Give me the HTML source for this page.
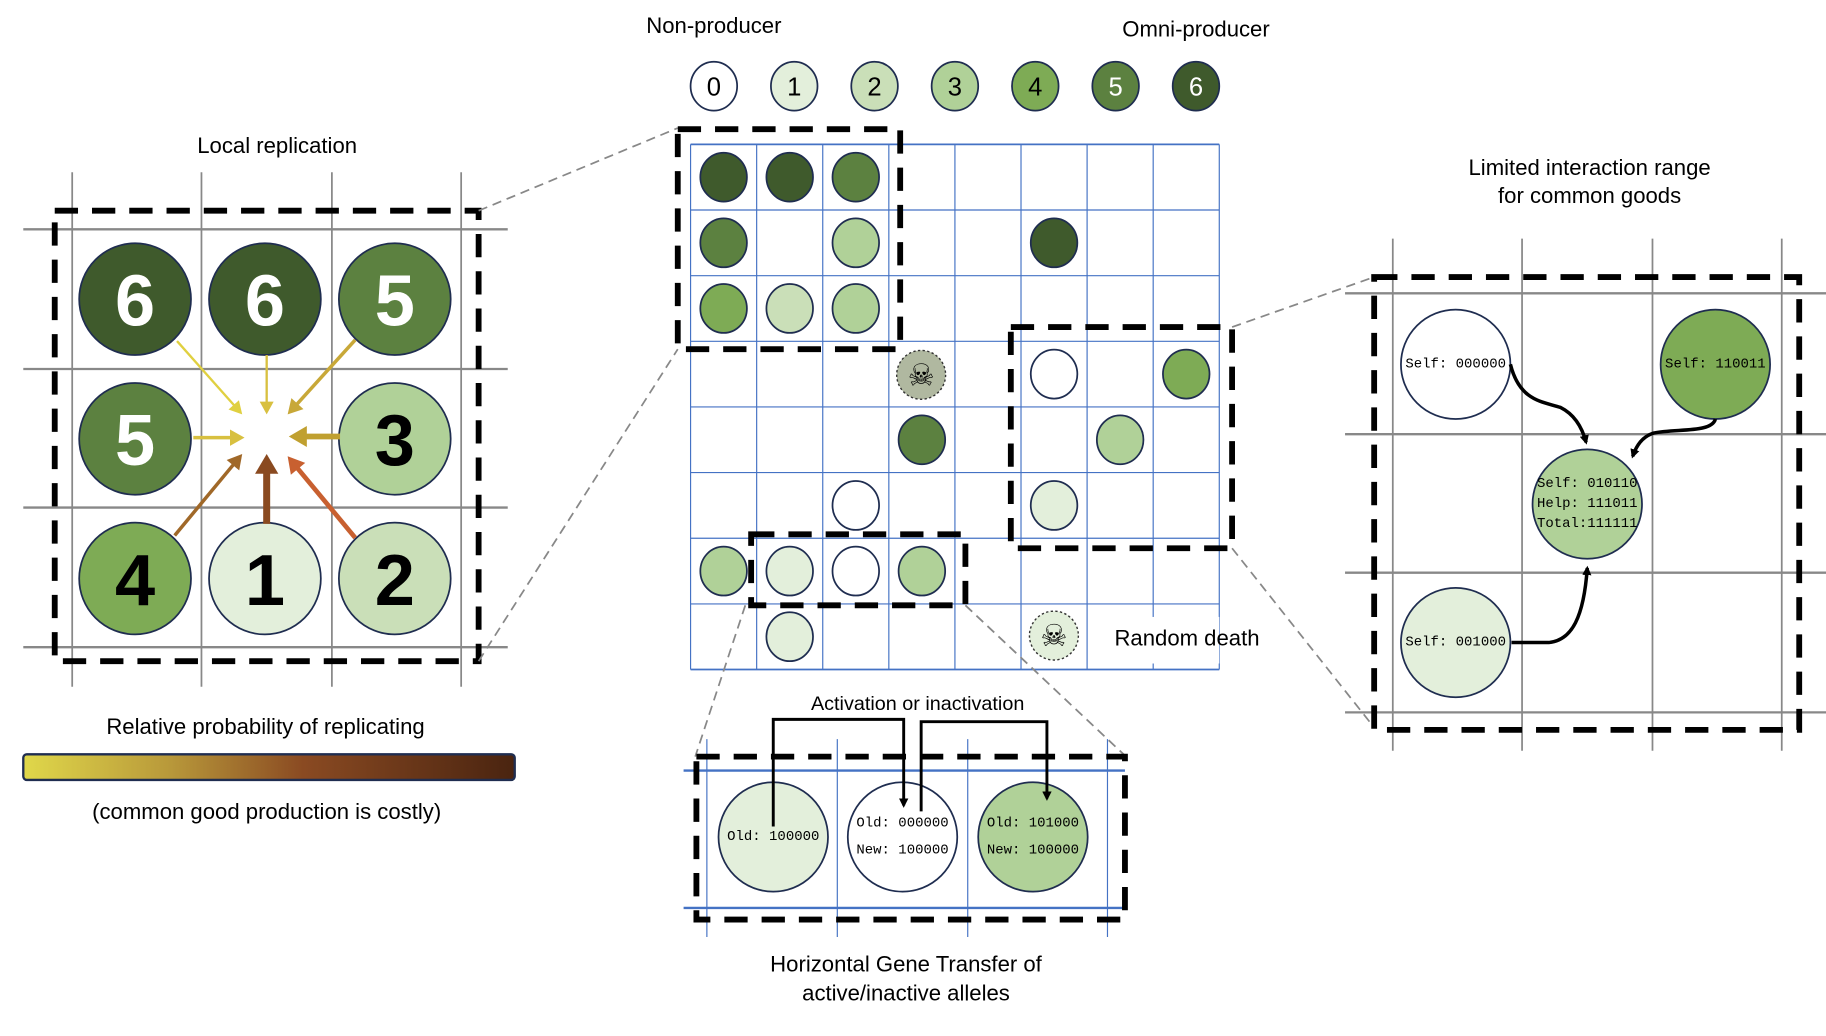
<!DOCTYPE html>
<html><head><meta charset="utf-8"><style>
html,body{margin:0;padding:0;background:#fff;}
svg{display:block;}
text{font-family:"Liberation Sans",sans-serif;}
.mono{font-family:"Liberation Mono",monospace;font-size:12px;}
</style></head><body>
<svg width="1826" height="1036" viewBox="0 0 1568 890" preserveAspectRatio="none">
<defs>
<linearGradient id="grad" x1="0" x2="1">
<stop offset="0" stop-color="#e0d84a"/><stop offset="0.3" stop-color="#b8983a"/><stop offset="0.57" stop-color="#8a4a22"/><stop offset="1" stop-color="#4a2410"/></linearGradient>
<marker id="ah" markerWidth="8" markerHeight="8" refX="6" refY="4" orient="auto" markerUnits="userSpaceOnUse"><path d="M0,0 L8,4 L0,8 z" fill="#000"/></marker>
</defs>
<g id="root"></g>
</svg>
<script>
const colors=['#ffffff','#e3efdb','#cadfb8','#b0d198','#7eab55','#5c8140','#3f5a2c'];
const legendLevels=[0,1,2,3,4,5,6];
const gridCells=[[0,0,6],[0,1,6],[0,2,5],[1,0,5],[1,2,3],[1,5,6],[2,0,4],[2,1,2],[2,2,3],[3,5,0],[3,7,4],[4,3,5],[4,6,3],[5,2,0],[5,5,1],[6,0,3],[6,1,1],[6,2,0],[6,3,3],[7,1,1]];
const localCells=[[0,0,6],[0,1,6],[0,2,5],[1,0,5],[1,2,3],[2,0,4],[2,1,1],[2,2,2]];
const NS='http://www.w3.org/2000/svg';
const root=document.getElementById('root');
function el(tag,attrs,parent,name){const e=document.createElementNS(NS,tag);for(const k in attrs)e.setAttribute(k,attrs[k]);


(parent||root).appendChild(e);return e;}
function txt(x,y,s,size,opts={},name){const t=el('text',Object.assign({x:x,y:y,'font-size':size,'text-anchor':'middle','dominant-baseline':'central',fill:'#000'},opts),opts.parent,name||'label');if(opts.parent)delete opts.parent;t.textContent=s;return t;}
function line(x1,y1,x2,y2,stroke,w,extra={},name){return el('line',Object.assign({x1,y1,x2,y2,stroke,'stroke-width':w},extra),null,name||'line');}
function dashBox(x,y,w,h,name){el('rect',{x,y,width:w,height:h,fill:'none',stroke:'#000','stroke-width':5,'stroke-dasharray':'20 12'},null,name);}
const navy='#1f2d50';
// legend
txt(613,22,'Non-producer',19,{},'legend-title-non-producer');
txt(1027,25,'Omni-producer',19,{},'legend-title-omni-producer');
legendLevels.forEach((l,i)=>{const x=613+69*i;el('ellipse',{cx:x,cy:74,rx:20,ry:21,fill:colors[l],stroke:navy,'stroke-width':1.5},null,'legend-entry-'+l);
txt(x,75,String(l),22,{fill:l>=5?'#fff':'#000'},'legend-label-'+l);});
// left panel
txt(238,125,'Local replication',19,{},'local-replication-title');
[62,173,285,396].forEach(x=>line(x,148,x,590,'#888',1.5,{},'left-grid-v'));
[197,317,436,556].forEach(y=>line(20,y,436,y,'#888',2,{},'left-grid-h'));
dashBox(47,181,364,387,'local-dashed-box');
localCells.forEach(c=>{const cx=116+111.5*c[1],cy=257+120*c[0];el('circle',{cx,cy,r:48,fill:colors[c[2]],stroke:navy,'stroke-width':1.5},null,'local-cell-'+c[2]);
txt(cx,cy+2,String(c[2]),62,{'font-weight':'bold',fill:c[2]>=5?'#fff':'#000'},'local-cell-label');});
const arrows=[[152,293,208,356,'#e0d040',2],[229,305,229,356,'#d8c040',2],[305,292,247,356,'#c8a838',3],[166,376,210,376,'#d8c040',3],[292,375,248,375,'#c0a030',5],[150,460,208,390,'#a06828',3],[229,450,229,390,'#8a4a20',6],[305,462,247,392,'#c86030',4]];
arrows.forEach(a=>{const dx=a[2]-a[0],dy=a[3]-a[1],L=Math.hypot(dx,dy),ux=dx/L,uy=dy/L,h=8+a[5]*1.5,w=4+a[5];
line(a[0],a[1],a[2]-ux*h*0.8,a[3]-uy*h*0.8,a[4],a[5],{},'replication-arrow');
el('polygon',{points:`${a[2]},${a[3]} ${a[2]-ux*h-uy*w},${a[3]-uy*h+ux*w} ${a[2]-ux*h+uy*w},${a[3]-uy*h-ux*w}`,fill:a[4]},null,'arrow-head');});
line(411,181,582,110,'#888',1.5,{'stroke-dasharray':'8 5'},'zoom-line');
line(411,568,582,300,'#888',1.5,{'stroke-dasharray':'8 5'},'zoom-line');
txt(228,624,'Relative probability of replicating',19,{},'gradient-title');
el('rect',{x:20,y:648,width:422,height:22,rx:3,fill:'url(#grad)',stroke:navy,'stroke-width':2},null,'probability-gradient-bar');
txt(229,697,'(common good production is costly)',19,{},'gradient-caption');
// center grid
const gx0=593,cw=56.75,gy0=124,ch=56.4;
for(let i=0;i<=8;i++){line(gx0+cw*i,gy0,gx0+cw*i,gy0+ch*8,'#4472c4',1,{},'grid-v');line(gx0,gy0+ch*i,gx0+cw*8,gy0+ch*i,'#4472c4',i==0||i==8?1.5:1,{},'grid-h');}
gridCells.forEach(c=>{el('ellipse',{cx:gx0+cw*(c[1]+0.5),cy:gy0+ch*(c[0]+0.5),rx:20,ry:21,fill:colors[c[2]],stroke:navy,'stroke-width':1.5},null,'grid-cell-'+c[2]);});
function skull(cx,cy,fill){el('circle',{cx,cy,r:21,fill,stroke:'#333','stroke-width':1.2,'stroke-dasharray':'2 2'},null,'death-marker');
txt(cx,cy+1,'☠',26,{fill:'#000',style:'font-family:DejaVu Sans,sans-serif'},'skull-icon');}
skull(791,322,'#b0b8a0');skull(905,546,'#e3efdb');
el('rect',{x:940,y:530,width:107,height:40,fill:'#fff'},null,'label-bg');
txt(957,548,'Random death',19,{'text-anchor':'start'},'random-death-label');
dashBox(582,111,191,189,'center-dashed-box-1');
dashBox(868,281,190,190,'center-dashed-box-2');
dashBox(645,459,184,61,'center-dashed-box-3');
line(640,520,597,650,'#888',1.5,{'stroke-dasharray':'8 5'},'zoom-line');
line(829,520,967,650,'#888',1.5,{'stroke-dasharray':'8 5'},'zoom-line');
line(1058,281,1180,238,'#888',1.5,{'stroke-dasharray':'8 5'},'zoom-line');
line(1058,471,1180,625,'#888',1.5,{'stroke-dasharray':'8 5'},'zoom-line');
// right panel
txt(1365,144,'Limited interaction range',19,{},'interaction-title-1');
txt(1365,168,'for common goods',19,{},'interaction-title-2');
[1196,1307,1419,1530].forEach(x=>line(x,205,x,645,'#888',1.5,{},'right-grid-v'));
[252,373,492,612].forEach(y=>line(1155,y,1568,y,'#888',2,{},'right-grid-h'));
dashBox(1180,238,365,389,'interaction-dashed-box');
const rc=[[1250,313,0,['Self: 000000']],[1473,313,4,['Self: 110011']],[1363,433,3,['Self: 010110','Help: 111011','Total:111111']],[1250,552,1,['Self: 001000']]];
rc.forEach(c=>{el('circle',{cx:c[0],cy:c[1],r:47,fill:colors[c[2]],stroke:navy,'stroke-width':1.5},null,'genome-cell');
c[3].forEach((s,i)=>{const t=txt(c[0],c[1]+(i-(c[3].length-1)/2)*17,s,12.5,{},'genome-text');t.setAttribute('class','mono');});});
el('path',{d:'M1297,313 C1305,345 1325,345 1340,350 C1350,355 1358,365 1362,380',fill:'none',stroke:'#000','stroke-width':3,'marker-end':'url(#ah)'},null,'help-arrow');
el('path',{d:'M1473,360 C1470,372 1440,368 1420,372 C1410,375 1405,383 1402,392',fill:'none',stroke:'#000','stroke-width':3,'marker-end':'url(#ah)'},null,'help-arrow');
el('path',{d:'M1298,552 L1330,552 C1350,550 1360,530 1363,488',fill:'none',stroke:'#000','stroke-width':3,'marker-end':'url(#ah)'},null,'help-arrow');
// HGT panel
txt(788,605,'Activation or  inactivation',17,{},'activation-label');
[607,719,831,951].forEach(x=>line(x,635,x,805,'#4472c4',1,{},'hgt-grid-v'));
[662,780].forEach(y=>line(587,y,966,y,'#4472c4',2,{},'hgt-grid-h'));
dashBox(598,650,368,140,'hgt-dashed-box');
const hc=[[664,719,1,['Old: 100000']],[775,719,0,['Old: 000000','New: 100000']],[887,719,3,['Old: 101000','New: 100000']]];
hc.forEach(c=>{el('circle',{cx:c[0],cy:c[1],r:47,fill:colors[c[2]],stroke:navy,'stroke-width':1.5},null,'hgt-cell');
c[3].forEach((s,i)=>{const t=txt(c[0],c[1]+(i-(c[3].length-1)/2)*23,s,12.5,{},'hgt-text');t.setAttribute('class','mono');});});
el('path',{d:'M664,710 L664,618 L776,618 L776,692',fill:'none',stroke:'#000','stroke-width':2.5,'marker-end':'url(#ah)'},null,'transfer-arrow');
el('path',{d:'M791,697 L791,620 L899,620 L899,686',fill:'none',stroke:'#000','stroke-width':2.5,'marker-end':'url(#ah)'},null,'transfer-arrow');
txt(778,828,'Horizontal Gene Transfer of',19,{},'hgt-title-1');
txt(778,853,'active/inactive alleles',19,{},'hgt-title-2');
</script>
</body></html>
